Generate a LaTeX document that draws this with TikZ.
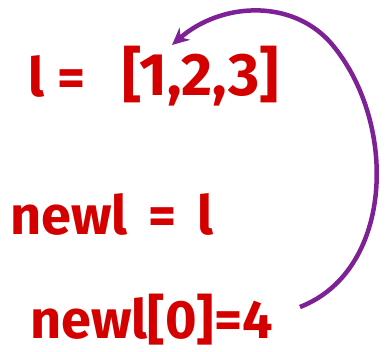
\documentclass[tikz,border=0pt]{standalone}
\usepackage{fontspec}
\setmainfont{Fira Sans}
\usepackage{tikz}
\usetikzlibrary{positioning,calc,arrows.meta}
\definecolor{inkred}{HTML}{D40000}
\definecolor{inkpurple}{HTML}{7E2196}

\begin{document}
\begin{tikzpicture}[x=1pt, y=-1pt,
  code/.style={text=inkred, font=\fontsize{54}{58}\selectfont\bfseries, inner sep=0pt, anchor=west}]
  \useasboundingbox (0, 0) rectangle (392, 352);

  % The three lines
  \node[code] (assign) at (28, 76) {l =};
  \node[code, font=\fontsize{60}{64}\selectfont\bfseries] (lst) at (122, 76) {[1,2,3]};
  \node[code] (alias) at (10, 214) {newl\hspace{8pt} = \hspace{8pt}l};
  \node[code] (update) at (30, 320) {newl[0]=4};

  % Arrow back up to the list
  \coordinate (tip) at (172, 45);
  \draw[inkpurple, line width=4.5pt, -{Stealth[length=17pt, width=16pt]}]
    ($(update.east) + (27, -13)$) .. controls (395, 270) and (398, 120) .. (330, 42)
    .. controls (290, -2) and (220, 3) .. (tip);
\end{tikzpicture}
\end{document}
